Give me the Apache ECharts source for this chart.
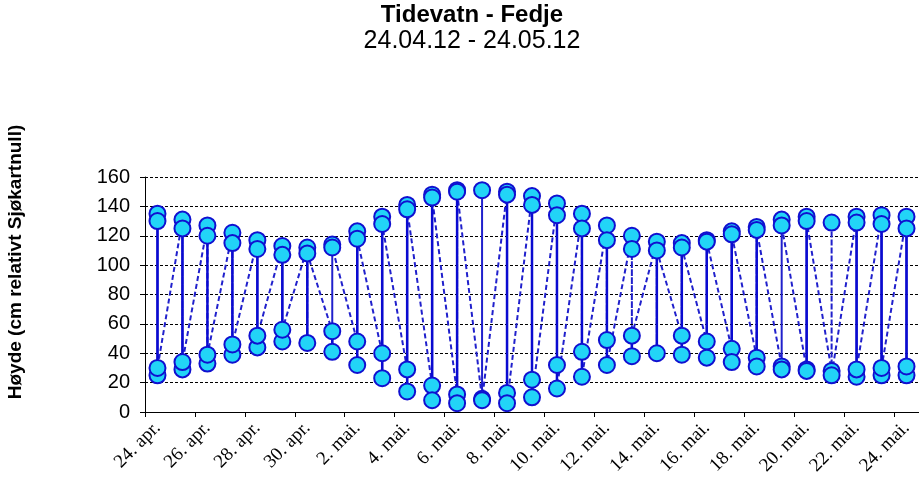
<!DOCTYPE html>
<html><head><meta charset="utf-8">
<script src="https://cdn.jsdelivr.net/npm/echarts@6/dist/echarts.min.js"></script>
<style>html,body{margin:0;padding:0;background:#fff}#c{width:919px;height:485px}</style>
</head><body><div id="c"></div>
<script>
// Days (x categories)
const categories = ['24. apr.','25. apr.','26. apr.','27. apr.','28. apr.','29. apr.','30. apr.',
  '1. mai.','2. mai.','3. mai.','4. mai.','5. mai.','6. mai.','7. mai.','8. mai.','9. mai.',
  '10. mai.','11. mai.','12. mai.','13. mai.','14. mai.','15. mai.','16. mai.','17. mai.',
  '18. mai.','19. mai.','20. mai.','21. mai.','22. mai.','23. mai.','24. mai.'];

// Tide extremes per day, in time order (cm relative to chart datum)
const tideValues = [
  [135, 25, 130, 30], [131, 29, 125, 34], [127, 33, 120, 39], [122, 39, 115, 46],
  [117, 44, 111, 52], [113, 48, 107, 56], [112, 47, 108], [55, 114, 41, 112],
  [48, 123, 32, 118], [40, 133, 23, 128], [29, 141, 14, 138], [18, 148, 8, 146],
  [12, 151, 6, 150], [9, 151, 8], [150, 13, 148, 6], [147, 22, 141, 10],
  [142, 32, 134, 16], [135, 41, 125, 24], [127, 49, 117, 32], [120, 38, 111, 52],
  [116, 40, 110], [52, 115, 39, 112], [48, 117, 37, 116], [43, 123, 34, 121],
  [37, 126, 31, 124], [31, 131, 29, 127], [29, 133, 28, 130], [28, 129, 25],
  [133, 24, 129, 29], [134, 25, 128, 30], [133, 25, 125, 31]
];

// Solid vertical day lines (low end, high end); null = none
const solidLow  = [25, 29, 33, 39, 44, 48, 47, 41, 32, 23, 14, 8, 6, null, 6, 10,
                   16, 24, 32, 38, 40, 39, 37, 34, 31, null, 28, null, 24, 25, 25];
const solidHigh = [135, 131, 127, 122, 117, 113, 112, 55, 123, 133, 141, 148, 151, null, 150, 147,
                   142, 135, 127, 52, 116, 115, 117, 123, 126, null, 133, null, 133, 134, 133];

const yMin = 0, yMax = 160, yStep = 20;

const pathData = [];
tideValues.forEach((vals, i) => vals.forEach(v => pathData.push([i, v])));
const solidData = [];
solidLow.forEach((lo, i) => { if (lo !== null) solidData.push([i, lo, solidHigh[i]]); });

const chart = echarts.init(document.getElementById('c'), null, {renderer: 'canvas'});
chart.setOption({
  animation: false,
  backgroundColor: '#ffffff',
  title: [
    {text: 'Tidevatn - Fedje', left: 467, top: -2, textAlign: 'center',
     textStyle: {fontFamily: 'Liberation Sans', fontWeight: 'bold', fontSize: 24, color: '#000'}},
    {text: '24.04.12 - 24.05.12', left: 467, top: 24, textAlign: 'center',
     textStyle: {fontFamily: 'Liberation Sans', fontWeight: 'normal', fontSize: 25, color: '#000'}}
  ],
  graphic: [{
    type: 'text', x: 16, y: 262, rotation: Math.PI / 2,
    style: {text: 'Høyde (cm relativt Sjøkartnull)', fontFamily: 'Liberation Sans', fontWeight: 'bold',
            fontSize: 19, fill: '#000', textAlign: 'center', textVerticalAlign: 'middle'}
  }],
  grid: {left: 145, top: 177, width: 775, height: 235, containLabel: false},
  xAxis: {
    type: 'category', data: categories, boundaryGap: true,
    axisLine: {show: true, lineStyle: {color: '#000', width: 1}},
    axisTick: {show: true, interval: 1, length: 5, lineStyle: {color: '#000'}},
    axisLabel: {interval: 1, rotate: 45, margin: 13, color: '#000',
                fontFamily: 'Liberation Serif', fontSize: 19},
    splitLine: {show: false}
  },
  yAxis: {
    type: 'value', min: yMin, max: yMax, interval: yStep,
    axisLine: {show: true, lineStyle: {color: '#000', width: 1}},
    axisTick: {show: true, length: 5, lineStyle: {color: '#000'}},
    axisLabel: {margin: 15, color: '#000', fontFamily: 'Liberation Sans', fontSize: 20},
    splitLine: {show: true, lineStyle: {color: '#000', width: 1, type: [3, 2]}}
  },
  series: [
    {type: 'line', data: pathData, symbol: 'none', z: 1,
     lineStyle: {color: '#2020cc', width: 2, type: [5, 3]}},
    {type: 'custom', data: solidData, z: 2, encode: {x: 0, y: [1, 2]},
     renderItem: function (params, api) {
       const a = api.coord([api.value(0), api.value(1)]);
       const b = api.coord([api.value(0), api.value(2)]);
       return {type: 'line', shape: {x1: a[0], y1: a[1], x2: b[0], y2: b[1]},
               style: {stroke: '#0a0ad0', lineWidth: 2.5}};
     }},
    {type: 'scatter', data: pathData, symbol: 'circle', symbolSize: 16, z: 3,
     itemStyle: {color: '#22d4f7', borderColor: '#1010d0', borderWidth: 2, opacity: 1}}
  ]
});
</script></body></html>
